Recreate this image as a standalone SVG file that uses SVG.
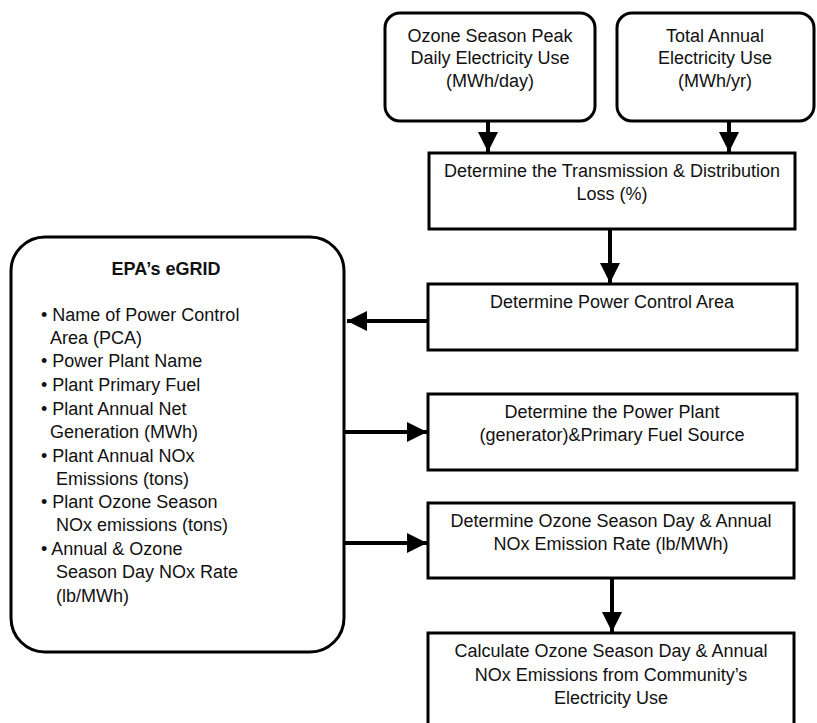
<svg xmlns="http://www.w3.org/2000/svg" width="817" height="723" viewBox="0 0 817 723">
<style>
.box{fill:#fff;stroke:#000;stroke-width:3}
text{font-family:"Liberation Sans",Arial,sans-serif;font-size:18px;fill:#111}
.c{text-anchor:middle}
.b{font-weight:bold}
.li{font-size:17.5px}
.ln{stroke:#000;stroke-width:4;fill:none}
</style>
<defs>
<marker id="ah" viewBox="0 0 10 10" refX="10" refY="5" markerWidth="5" markerHeight="5" markerUnits="strokeWidth" orient="auto">
<path d="M0,0 L10,5 L0,10 Z" fill="#000"/>
</marker>
</defs>
<g id="ozone-peak">
<rect class="box" x="385" y="13" width="210" height="108" rx="15"/>
<text class="c" x="490" y="42">Ozone Season Peak</text>
<text class="c" x="490" y="64">Daily Electricity Use</text>
<text class="c" x="490" y="87">(MWh/day)</text>
</g>
<g id="total-annual">
<rect class="box" x="617" y="13" width="197" height="108" rx="15"/>
<text class="c" x="715" y="42">Total Annual</text>
<text class="c" x="715" y="64">Electricity Use</text>
<text class="c" x="715" y="87">(MWh/yr)</text>
</g>
<g id="td-loss">
<rect class="box" x="429" y="153" width="366" height="76"/>
<text class="c" x="612" y="177">Determine the Transmission &amp; Distribution</text>
<text class="c" x="612" y="200">Loss (%)</text>
</g>
<g id="pca">
<rect class="box" x="428" y="284" width="369" height="66"/>
<text class="c" x="612" y="308">Determine Power Control Area</text>
</g>
<g id="power-plant">
<rect class="box" x="428" y="394" width="369" height="76"/>
<text class="c" x="612" y="418">Determine the Power Plant</text>
<text class="c" x="612" y="441">(generator)&amp;Primary Fuel Source</text>
</g>
<g id="rate">
<rect class="box" x="428" y="503" width="366" height="75"/>
<text class="c" x="611" y="527">Determine Ozone Season Day &amp; Annual</text>
<text class="c" x="611" y="550">NOx Emission Rate (lb/MWh)</text>
</g>
<g id="calc">
<rect class="box" x="428" y="633" width="366" height="100"/>
<text class="c" x="611" y="657">Calculate Ozone Season Day &amp; Annual</text>
<text class="c" x="611" y="681">NOx Emissions from Community’s</text>
<text class="c" x="611" y="704">Electricity Use</text>
</g>
<g id="egrid">
<rect class="box" x="11" y="237" width="333" height="415" rx="34"/>
<text class="c b" x="166" y="275">EPA’s eGRID</text>
<g class="li">
<text x="41" y="321">• Name of Power Control</text>
<text x="50" y="344">Area (PCA)</text>
<text x="41" y="367">• Power Plant Name</text>
<text x="41" y="391">• Plant Primary Fuel</text>
<text x="41" y="415">• Plant Annual Net</text>
<text x="50" y="438">Generation (MWh)</text>
<text x="41" y="462">• Plant Annual NOx</text>
<text x="56" y="485">Emissions (tons)</text>
<text x="41" y="508">• Plant Ozone Season</text>
<text x="56" y="531">NOx emissions (tons)</text>
<text x="41" y="555">• Annual &amp; Ozone</text>
<text x="56" y="578">Season Day NOx Rate</text>
<text x="56" y="602">(lb/MWh)</text>
</g>
</g>
<g id="connectors">
<line class="ln" x1="488" y1="121" x2="488" y2="152" marker-end="url(#ah)"/>
<line class="ln" x1="729" y1="121" x2="729" y2="152" marker-end="url(#ah)"/>
<line class="ln" x1="610" y1="229" x2="610" y2="283" marker-end="url(#ah)"/>
<line class="ln" x1="428" y1="321" x2="347" y2="321" marker-end="url(#ah)"/>
<line class="ln" x1="344" y1="432" x2="427" y2="432" marker-end="url(#ah)"/>
<line class="ln" x1="344" y1="543" x2="427" y2="543" marker-end="url(#ah)"/>
<line class="ln" x1="612" y1="578" x2="612" y2="632" marker-end="url(#ah)"/>
</g>
</svg>
